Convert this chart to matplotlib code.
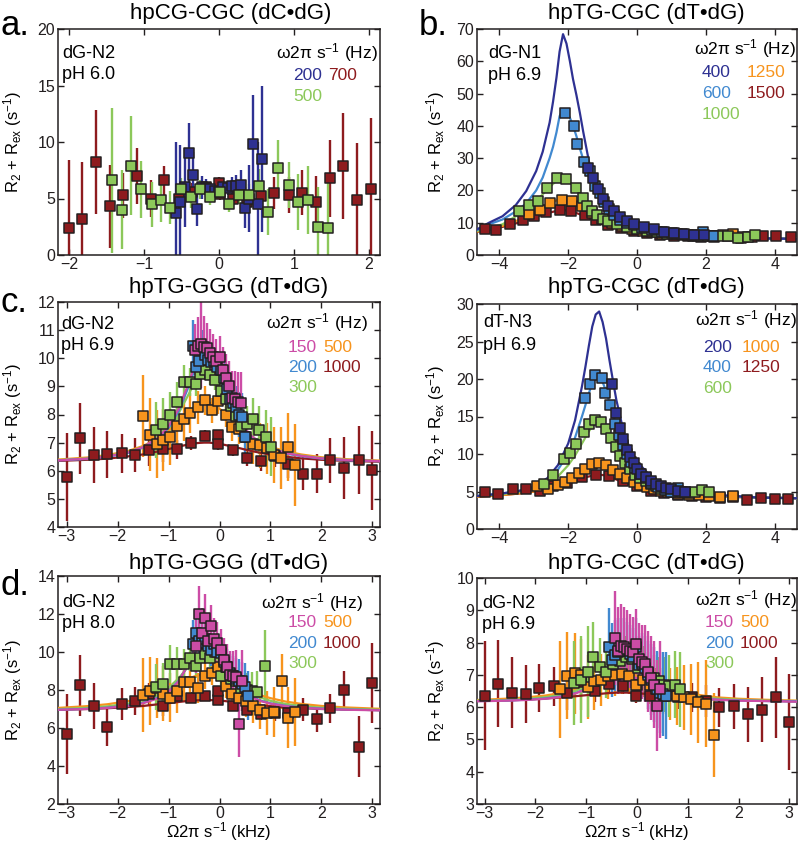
import matplotlib
matplotlib.use('Agg')
import matplotlib.pyplot as plt
from matplotlib.markers import MarkerStyle

plt.rcParams['font.family'] = ['Liberation Sans', 'DejaVu Sans']
plt.rcParams['mathtext.default'] = 'regular'

NAVY = '#2e3192'
LBLUE = '#4189d0'
GREEN = '#8cc85a'
ORANGE = '#f7941d'
RED = '#8e1b1e'
MAGENTA = '#cc4ca6'

# ---- panel a : hpCG-CGC dG-N2 pH 6.0 (no fits) ----
a_700_x = [-2.00, -1.83, -1.64, -1.46, -1.28, -1.10, -0.91, -0.73, -0.54, -0.36, -0.18, 0.00, 0.02,
           0.19, 0.37, 0.56, 0.74, 0.93, 1.11, 1.29, 1.48, 1.66, 1.84, 2.03]
a_700_y = [2.4, 3.2, 8.2, 4.3, 5.3, 7.0, 5.0, 6.6, 5.0, 5.6, 6.0, 6.4, 5.4,
           5.0, 4.7, 5.2, 5.5, 5.3, 5.5, 4.7, 6.8, 7.9, 4.9, 5.8]
a_700_e = [6.0, 5.0, 4.6, 3.7, 2.0, 2.5, 1.6, 1.3, 1.0, 0.8, 0.5, 0.5, 0.5,
           0.6, 1.0, 1.2, 1.4, 1.6, 2.0, 2.3, 3.4, 4.7, 5.0, 6.3]
a_500_x = [-1.43, -1.30, -1.18, -1.04, -0.90, -0.78, -0.65, -0.51, -0.38, -0.25, -0.12, 0.01,
           0.14, 0.27, 0.40, 0.53, 0.66, 0.79, 0.93, 1.06, 1.19, 1.32, 1.45]
a_500_y = [6.6, 4.0, 7.9, 5.8, 4.5, 4.9, 4.2, 5.8, 5.1, 5.8, 5.1, 5.6,
           4.5, 5.3, 5.3, 6.1, 3.8, 7.7, 6.2, 4.7, 4.9, 2.5, 2.4]
a_500_e = [6.4, 3.5, 4.4, 2.5, 2.0, 2.0, 1.5, 1.0, 0.9, 0.8, 0.7, 0.6,
           0.7, 0.8, 1.0, 1.5, 2.0, 2.5, 2.0, 2.5, 3.0, 3.5, 4.0]
a_200_x = [-0.58, -0.52, -0.46, -0.40, -0.35, -0.29, -0.23, -0.17, -0.12, -0.06, 0.0,
           0.06, 0.12, 0.17, 0.23, 0.29, 0.35, 0.40, 0.46, 0.52, 0.58]
a_200_y = [3.7, 4.7, 6.0, 9.0, 7.1, 4.1, 6.0, 5.9, 5.8, 5.7, 5.6,
           6.0, 5.9, 6.1, 6.1, 6.2, 4.2, 5.0, 9.8, 4.5, 8.5]
a_200_e = [6.3, 5.0, 3.5, 2.7, 2.0, 1.5, 1.0, 0.8, 0.6, 0.5, 0.5,
           0.5, 0.6, 0.8, 1.0, 1.3, 1.8, 3.0, 4.4, 5.5, 6.5]

# ---- panel b : hpTG-CGC dG-N1 pH 6.9 ----
b_fit_x = [-4.64, -4.30, -3.91, -3.52, -3.22, -2.93, -2.74, -2.54, -2.44, -2.34, -2.25, -2.15, -2.05,
           -1.95, -1.86, -1.76, -1.66, -1.56, -1.37, -1.17, -0.98, -0.78, -0.49, 0.0, 0.49, 0.98,
           1.95, 2.93, 3.91, 4.64]
b_fit_400 = [8.0, 10.0, 12.0, 15.5, 19.8, 26.0, 32.0, 41.0, 47.5, 55.0, 63.0, 68.4, 65.5, 60.0, 54.5,
             49.5, 44.0, 38.0, 27.5, 21.5, 17.5, 14.5, 11.5, 9.0, 8.0, 7.0, 6.0, 5.5, 5.1, 5.0]
b_fit_600 = [7.8, 9.5, 11.0, 13.5, 16.0, 20.0, 24.0, 30.0, 33.5, 38.0, 43.0, 45.2, 44.5, 42.5, 40.0,
             36.8, 33.0, 29.5, 24.0, 19.5, 16.5, 14.0, 11.2, 9.0, 8.0, 7.0, 6.0, 5.5, 5.1, 5.0]
b_fit_1000 = [7.5, 8.3, 9.5, 12.0, 14.0, 16.5, 18.8, 21.0, 22.0, 23.0, 23.5, 23.6, 23.3, 22.6, 21.5,
              20.3, 19.0, 17.6, 15.0, 13.0, 11.8, 10.8, 9.6, 8.3, 7.5, 6.8, 6.0, 5.5, 5.1, 5.0]
b_fit_1250 = [7.3, 8.0, 9.0, 10.5, 12.0, 13.5, 14.8, 16.0, 16.5, 16.9, 17.1, 17.2, 17.1, 16.8, 16.3,
              15.6, 14.9, 14.1, 12.6, 11.4, 10.4, 9.7, 8.9, 7.9, 7.2, 6.7, 6.0, 5.5, 5.1, 5.0]
b_fit_1500 = [7.2, 7.8, 8.7, 9.8, 10.8, 11.8, 12.5, 13.1, 13.4, 13.6, 13.8, 13.8, 13.8, 13.6, 13.4,
              13.0, 12.6, 12.1, 11.2, 10.3, 9.6, 9.0, 8.3, 7.5, 7.0, 6.6, 6.0, 5.4, 5.1, 5.0]
b_1500_x = [-4.42, -4.09, -3.70, -3.32, -2.99, -2.64, -2.25, -1.91, -1.51, -1.18, -0.84, -0.46, -0.10,
            0.29, 0.68, 1.07, 1.47, 1.86, 2.25, 2.64, 3.03, 3.35, 3.65, 4.05, 4.49]
b_1500_y = [7.9, 7.6, 9.5, 10.7, 12.1, 13.4, 14.0, 13.7, 12.4, 10.9, 9.3, 8.3, 7.5,
            6.8, 6.3, 6.0, 6.0, 5.7, 5.6, 5.8, 5.2, 5.5, 6.0, 6.0, 5.5]
b_1250_x = [-3.13, -2.83, -2.52, -2.18, -1.89, -1.60, -1.31, -1.02, -0.72, -0.43, -0.14, 0.16, 0.45,
            0.74, 1.04, 1.33, 1.62, 1.91, 2.21, 2.50, 2.79, 3.09]
b_1250_y = [12.6, 14.0, 16.0, 17.1, 16.8, 15.3, 13.0, 11.0, 9.8, 9.0, 8.1, 7.4, 7.0,
            6.6, 6.4, 6.2, 6.0, 5.8, 5.9, 6.3, 6.6, 5.5]
b_1000_x = [-3.44, -3.15, -2.89, -2.62, -2.33, -2.05, -1.76, -1.57, -1.46, -1.32, -1.17, -0.98, -0.83,
            -0.59, -0.29, 0.0, 0.29, 0.59, 0.88, 1.17, 1.47, 1.76, 2.05, 2.34, 2.64, 2.93, 3.22, 3.42]
b_1000_y = [13.7, 15.5, 16.8, 20.6, 23.8, 23.5, 20.6, 17.8, 15.3, 13.7, 12.5, 11.3, 10.4,
            9.6, 8.8, 8.0, 7.4, 7.0, 6.6, 6.4, 6.2, 6.0, 5.9, 5.8, 5.8, 5.4, 5.6, 6.3]
b_600_x = [-2.08, -1.84, -1.75, -1.55, -1.37, -1.21, -1.08, -0.96, -0.82, -0.67, -0.48, -0.29, -0.10,
           0.15, 0.44, 0.73, 1.03, 1.32, 1.61, 1.91, 2.20]
b_600_y = [44.0, 40.0, 34.4, 28.7, 26.0, 21.5, 19.2, 16.5, 14.3, 12.3, 10.8, 9.8, 9.2,
           8.4, 7.6, 7.0, 6.7, 6.5, 6.3, 7.2, 6.0]
b_400_x = [-1.42, -1.27, -1.12, -0.98, -0.83, -0.68, -0.49, -0.29, -0.10, 0.20, 0.49, 0.78,
           1.07, 1.37, 1.66, 1.95]
b_400_y = [27.0, 24.0, 20.5, 17.5, 15.2, 13.5, 11.8, 10.6, 9.6, 8.6, 7.9, 7.2,
           6.9, 6.6, 6.3, 6.2]

# ---- shared fit grid for panels c, d, f ----
mid_fit_x = [-3.15, -2.6, -2.2, -1.8, -1.5, -1.2, -1.0, -0.8, -0.6, -0.5, -0.4, -0.3, -0.2, -0.1,
             0.0, 0.1, 0.2, 0.4, 0.6, 0.8, 1.0, 1.3, 1.6, 2.0, 2.5, 3.15]

# ---- panel c : hpTG-GGG dG-N2 pH 6.9 ----
c_fit_150 = [6.37, 6.43, 6.51, 6.65, 6.84, 7.18, 7.58, 8.21, 9.14, 9.68, 10.14, 10.39, 10.32, 9.97,
             9.47, 8.93, 8.45, 7.73, 7.28, 6.99, 6.81, 6.63, 6.53, 6.44, 6.38, 6.34]
c_fit_200 = [6.37, 6.42, 6.50, 6.63, 6.82, 7.14, 7.53, 8.13, 9.02, 9.54, 9.98, 10.22, 10.16, 9.82,
             9.34, 8.82, 8.36, 7.67, 7.24, 6.96, 6.79, 6.61, 6.52, 6.43, 6.37, 6.34]
c_fit_300 = [6.38, 6.44, 6.52, 6.66, 6.85, 7.17, 7.52, 8.05, 8.74, 9.10, 9.39, 9.55, 9.50, 9.29,
             8.96, 8.60, 8.24, 7.66, 7.27, 7.00, 6.82, 6.65, 6.54, 6.45, 6.39, 6.34]
c_fit_500 = [6.40, 6.47, 6.56, 6.70, 6.88, 7.16, 7.42, 7.75, 8.12, 8.27, 8.39, 8.45, 8.43, 8.35,
             8.21, 8.05, 7.86, 7.52, 7.23, 7.01, 6.85, 6.69, 6.58, 6.48, 6.41, 6.36]
c_fit_1000 = [6.35, 6.39, 6.43, 6.51, 6.58, 6.69, 6.77, 6.86, 6.94, 6.97, 6.99, 7.00, 7.00, 6.98,
              6.96, 6.92, 6.88, 6.80, 6.71, 6.64, 6.57, 6.50, 6.44, 6.39, 6.35, 6.32]
c_1000_x = [-3.00, -2.74, -2.46, -2.20, -1.92, -1.66, -1.38, -1.10, -0.83, -0.56, -0.28, -0.02, -0.02,
            0.26, 0.53, 0.81, 1.08, 1.35, 1.63, 1.91, 2.17, 2.45, 2.73, 2.99]
c_1000_y = [5.78, 7.15, 6.56, 6.58, 6.62, 6.56, 6.73, 6.76, 6.76, 7.00, 7.25, 7.26, 6.95,
            6.73, 6.47, 6.35, 6.52, 6.24, 5.90, 5.90, 6.38, 6.10, 6.38, 6.02]
c_1000_e = [1.55, 1.25, 1.0, 0.85, 0.7, 0.6, 0.55, 0.45, 0.35, 0.25, 0.2, 0.2, 0.2,
            0.2, 0.3, 0.35, 0.4, 0.5, 0.6, 0.7, 0.8, 1.1, 1.2, 1.4]
c_500_x = [-1.51, -1.37, -1.23, -1.10, -0.97, -0.84, -0.70, -0.57, -0.43, -0.29, -0.15, -0.02, 0.12,
           0.25, 0.38, 0.52, 0.65, 0.79, 0.93, 1.06, 1.20, 1.35, 1.48]
c_500_y = [7.95, 7.28, 6.95, 7.10, 7.20, 7.60, 7.85, 8.05, 8.25, 8.50, 8.15, 8.48, 8.00,
           7.55, 7.50, 7.20, 6.95, 6.90, 6.80, 6.55, 6.45, 6.85, 6.20]
c_500_e = [1.45, 1.3, 1.2, 1.1, 1.0, 0.9, 0.8, 0.7, 0.6, 0.5, 0.45, 0.45, 0.45,
           0.5, 0.55, 0.6, 0.7, 0.8, 0.9, 1.0, 1.1, 1.2, 1.45]
c_300_x = [-1.24, -1.11, -0.97, -0.84, -0.70, -0.57, -0.47, -0.39, -0.29, -0.18, -0.08, 0.02, 0.12,
           0.22, 0.33, 0.43, 0.53, 0.65, 0.78, 0.91, 1.02]
c_300_y = [7.45, 7.68, 8.00, 8.46, 9.15, 9.15, 9.10, 9.45, 9.58, 9.39, 9.23, 8.85, 8.55,
           8.30, 7.95, 7.60, 7.65, 7.85, 7.45, 7.20, 6.85]
c_300_e = [1.0, 0.9, 0.8, 0.7, 0.6, 0.5, 0.45, 0.4, 0.35, 0.35, 0.35, 0.35, 0.4,
           0.45, 0.5, 0.55, 0.65, 0.75, 0.85, 0.95, 1.05]
c_200_x = [-0.52, -0.46, -0.40, -0.34, -0.28, -0.22, -0.16, -0.10, -0.04, 0.02, 0.08, 0.14, 0.20,
           0.26, 0.32, 0.38, 0.44, 0.50]
c_200_y = [10.45, 9.70, 9.90, 10.40, 10.10, 9.95, 9.85, 9.90, 9.70, 9.60, 9.30, 8.90, 8.55,
           8.40, 8.25, 8.00, 7.90, 7.20]
c_200_e = [0.9, 0.8, 0.7, 0.6, 0.55, 0.5, 0.5, 0.5, 0.5, 0.5, 0.55, 0.6, 0.65,
           0.7, 0.75, 0.8, 0.85, 0.9]
c_150_x = [-0.48, -0.42, -0.36, -0.30, -0.24, -0.18, -0.12, -0.06, 0.0, 0.06, 0.12, 0.18, 0.24,
           0.30, 0.36, 0.42]
c_150_y = [10.30, 10.45, 10.50, 10.40, 10.35, 10.20, 10.05, 9.90, 10.05, 9.60, 9.30, 9.00, 8.60,
           8.55, 8.45, 8.40]
c_150_e = [0.9, 1.0, 1.55, 1.1, 0.9, 0.85, 0.8, 0.8, 0.75, 0.8, 0.85, 0.9, 0.95,
           1.0, 1.05, 1.1]

# ---- panel e : hpTG-CGC dT-N3 pH 6.9 ----
e_fit_x = [-4.65, -4.0, -3.5, -3.0, -2.6, -2.3, -2.0, -1.8, -1.6, -1.5, -1.4, -1.3, -1.2, -1.1,
           -1.0, -0.9, -0.8, -0.7, -0.6, -0.4, -0.2, 0.0, 0.4, 0.8, 1.5, 2.5, 3.5, 4.65]
e_fit_200 = [4.4, 4.7, 5.0, 5.6, 6.8, 8.5, 11.4, 14.5, 19.0, 21.6, 24.4, 27.0, 28.6, 29.0,
             27.6, 25.4, 22.5, 19.8, 17.2, 13.2, 10.6, 9.0, 7.0, 5.9, 5.0, 4.5, 4.2, 4.1]
e_fit_400 = [4.4, 4.7, 5.0, 5.5, 6.4, 7.9, 10.0, 12.2, 15.0, 16.5, 18.1, 19.4, 20.1, 20.3,
             19.6, 18.4, 16.9, 15.3, 13.8, 11.3, 9.4, 8.1, 6.5, 5.6, 4.9, 4.4, 4.2, 4.1]
e_fit_600 = [4.4, 4.6, 4.9, 5.4, 6.1, 7.0, 8.5, 9.8, 11.4, 12.2, 13.0, 13.7, 14.1, 14.3,
             14.0, 13.4, 12.6, 11.7, 10.8, 9.2, 7.9, 7.0, 5.9, 5.3, 4.7, 4.4, 4.2, 4.1]
e_fit_1000 = [4.3, 4.5, 4.7, 5.0, 5.4, 5.9, 6.5, 7.0, 7.6, 7.9, 8.2, 8.5, 8.6, 8.7,
              8.6, 8.4, 8.1, 7.8, 7.5, 6.9, 6.3, 5.9, 5.3, 4.9, 4.5, 4.3, 4.2, 4.1]
e_fit_1250 = [4.3, 4.5, 4.7, 5.0, 5.3, 5.7, 6.1, 6.5, 6.8, 6.9, 7.0, 7.1, 7.2, 7.2,
              7.2, 7.1, 7.0, 6.8, 6.6, 6.2, 5.9, 5.6, 5.1, 4.8, 4.5, 4.3, 4.2, 4.1]
e_1250_x = [-4.42, -4.03, -3.61, -3.23, -2.82, -2.43, -2.03, -1.61, -1.19, -0.80, -0.40, 0.01,
            0.40, 0.79, 1.18, 1.60, 2.00, 2.40, 2.80, 3.20, 3.60, 4.00, 4.40]
e_1250_y = [5.0, 4.7, 5.4, 5.3, 5.1, 5.7, 6.1, 6.9, 7.2, 7.1, 6.4, 5.7,
            5.1, 4.8, 4.5, 4.4, 4.3, 4.1, 4.3, 3.9, 4.1, 4.0, 4.0]
e_1000_x = [-2.9, -2.6, -2.3, -2.1, -1.9, -1.7, -1.5, -1.3, -1.1, -0.9, -0.7, -0.5, -0.3,
            -0.1, 0.1, 0.3, 0.5, 0.7, 0.9, 1.2, 1.5, 1.8, 2.1, 2.4, 2.8]
e_1000_y = [5.8, 5.4, 5.9, 6.3, 6.8, 7.5, 8.0, 8.7, 8.8, 8.6, 7.9, 7.4, 6.8,
            6.3, 5.9, 5.6, 5.4, 5.1, 4.9, 4.7, 4.6, 4.5, 4.4, 4.3, 4.4]
e_600_x = [-2.70, -2.45, -2.11, -1.95, -1.76, -1.55, -1.40, -1.22, -1.05, -0.90, -0.75, -0.62, -0.48,
           -0.35, -0.20, -0.05, 0.10, 0.25, 0.40, 0.55, 0.70, 0.9, 1.1, 1.3, 1.5, 1.7, 1.9, 2.1]
e_600_y = [6.0, 7.2, 9.3, 10.2, 11.3, 12.9, 14.0, 14.5, 14.3, 13.4, 12.2, 11.0, 9.8,
           8.8, 8.0, 7.2, 6.8, 6.4, 6.0, 5.7, 5.4, 5.2, 5.0, 4.9, 4.8, 5.0, 5.2, 5.0]
e_400_x = [-1.52, -1.36, -1.21, -1.02, -0.93, -0.78, -0.63, -0.53, -0.42, -0.30, -0.18, -0.05,
           0.1, 0.25, 0.4, 0.6, 0.8, 1.0, 1.2, 1.4]
e_400_y = [17.5, 19.3, 20.5, 20.1, 18.1, 16.5, 14.0, 12.5, 11.2, 10.0, 9.0, 8.2,
           7.4, 6.8, 6.2, 5.6, 5.2, 5.0, 5.5, 5.0]
e_200_x = [-0.73, -0.60, -0.50, -0.40, -0.30, -0.20, -0.10, 0.0, 0.12, 0.25, 0.4, 0.55,
           0.7, 0.85, 1.0, 1.2, 1.4]
e_200_y = [19.3, 15.5, 13.5, 12.0, 10.6, 9.6, 8.8, 8.0, 7.4, 6.9, 6.4, 6.0,
           5.7, 5.5, 5.3, 5.1, 5.0]

# ---- panel d : hpTG-GGG dG-N2 pH 8.0 ----
d_fit_150 = [6.96, 7.00, 7.06, 7.16, 7.30, 7.57, 7.90, 8.46, 9.42, 10.04, 10.64, 10.98, 10.89, 10.42,
             9.79, 9.19, 8.70, 8.03, 7.65, 7.42, 7.28, 7.15, 7.07, 7.01, 6.96, 6.93]
d_fit_200 = [6.96, 7.01, 7.07, 7.18, 7.33, 7.61, 7.94, 8.49, 9.39, 9.94, 10.44, 10.72, 10.65, 10.26,
             9.72, 9.18, 8.72, 8.07, 7.69, 7.45, 7.30, 7.17, 7.08, 7.02, 6.97, 6.94]
d_fit_300 = [7.00, 7.06, 7.14, 7.28, 7.46, 7.78, 8.12, 8.62, 9.28, 9.62, 9.89, 10.03, 10.00, 9.80,
             9.49, 9.14, 8.81, 8.25, 7.87, 7.61, 7.43, 7.26, 7.16, 7.07, 7.01, 6.96]
d_fit_500 = [7.06, 7.15, 7.25, 7.41, 7.60, 7.87, 8.10, 8.36, 8.61, 8.71, 8.78, 8.82, 8.81, 8.76,
             8.67, 8.56, 8.44, 8.17, 7.93, 7.73, 7.57, 7.39, 7.27, 7.16, 7.08, 7.01]
d_fit_1000 = [6.96, 7.00, 7.04, 7.10, 7.16, 7.25, 7.31, 7.37, 7.43, 7.45, 7.46, 7.47, 7.47, 7.46,
              7.44, 7.42, 7.39, 7.33, 7.26, 7.20, 7.15, 7.09, 7.05, 7.00, 6.97, 6.94]
d_1000_x = [-3.00, -2.74, -2.47, -2.20, -1.92, -1.66, -1.38, -1.10, -0.83, -0.56, -0.28, -0.02, -0.02,
            0.26, 0.53, 0.81, 1.08, 1.35, 1.63, 1.91, 2.17, 2.45, 2.73, 2.99]
d_1000_y = [5.68, 8.25, 7.17, 6.06, 7.25, 7.43, 7.78, 7.15, 7.70, 7.59, 7.67, 7.46, 7.96,
            7.17, 6.94, 6.76, 6.80, 6.81, 6.97, 6.45, 7.03, 8.02, 5.01, 8.37]
d_1000_e = [2.1, 1.6, 1.2, 1.0, 0.85, 0.75, 0.6, 0.5, 0.4, 0.3, 0.25, 0.25, 0.25,
            0.25, 0.3, 0.35, 0.45, 0.5, 0.6, 0.65, 0.75, 1.0, 1.6, 2.1]
d_500_x = [-1.51, -1.37, -1.23, -1.10, -0.97, -0.84, -0.70, -0.57, -0.43, -0.29, -0.15, -0.02, 0.12,
           0.25, 0.38, 0.52, 0.65, 0.79, 0.93, 1.06, 1.22, 1.35, 1.48]
d_500_y = [7.76, 7.94, 8.11, 7.80, 7.59, 7.95, 8.40, 8.40, 8.10, 8.75, 8.90, 9.20, 8.20,
           7.80, 7.60, 7.40, 7.15, 6.95, 6.80, 6.85, 8.45, 6.55, 6.85]
d_500_e = [1.95, 1.8, 1.6, 1.45, 1.3, 1.15, 1.0, 0.9, 0.8, 0.7, 0.65, 0.6, 0.6,
           0.65, 0.7, 0.8, 0.9, 1.0, 1.15, 1.3, 1.45, 1.6, 1.8]
d_300_x = [-1.24, -1.10, -0.97, -0.84, -0.70, -0.57, -0.47, -0.39, -0.29, -0.18, -0.08, 0.02, 0.12,
           0.22, 0.33, 0.43, 0.53, 0.63, 0.74, 0.90]
d_300_y = [8.15, 8.30, 9.35, 9.35, 9.35, 9.70, 9.25, 9.70, 9.90, 9.70, 10.00, 8.75, 9.20,
           8.60, 8.50, 8.10, 8.00, 7.95, 7.90, 9.25]
d_300_e = [1.2, 1.1, 1.0, 0.9, 0.8, 0.7, 0.6, 0.55, 0.5, 0.5, 0.5, 0.5, 0.55,
           0.6, 0.7, 0.8, 0.9, 1.0, 1.1, 1.9]
d_200_x = [-0.52, -0.46, -0.40, -0.34, -0.28, -0.22, -0.16, -0.10, -0.04, 0.02, 0.08, 0.14, 0.20,
           0.26, 0.32, 0.38, 0.44, 0.50, 0.56]
d_200_y = [10.40, 11.00, 10.60, 10.45, 10.70, 10.30, 10.10, 10.40, 10.00, 9.95, 9.50, 9.20, 8.90,
           8.75, 8.60, 8.50, 8.30, 8.15, 7.70]
d_200_e = [1.3, 1.2, 1.1, 1.0, 0.95, 0.9, 0.85, 0.85, 0.85, 0.85, 0.9, 0.95, 1.0,
           1.05, 1.1, 1.15, 1.2, 1.25, 1.3]
d_150_x = [-0.46, -0.40, -0.34, -0.28, -0.22, -0.16, -0.10, -0.04, 0.02, 0.08, 0.14, 0.20, 0.26,
           0.32, 0.38, 0.44]
d_150_y = [10.30, 12.00, 11.00, 11.80, 10.60, 11.35, 10.70, 10.50, 10.10, 9.60, 9.20, 8.80, 8.75,
           8.70, 6.20, 8.50]
d_150_e = [1.4, 1.45, 1.3, 1.25, 1.2, 1.15, 1.1, 1.1, 1.1, 1.15, 1.2, 1.25, 1.3,
           1.4, 1.7, 1.6]

# ---- panel f : hpTG-CGC dG-N2 pH 6.9 ----
f_fit_150 = [6.18, 6.20, 6.22, 6.26, 6.32, 6.43, 6.56, 6.79, 7.20, 7.47, 7.74, 7.90, 7.86, 7.64,
             7.36, 7.10, 6.89, 6.61, 6.46, 6.37, 6.31, 6.26, 6.23, 6.20, 6.19, 6.17]
f_fit_200 = [6.19, 6.20, 6.23, 6.27, 6.33, 6.44, 6.57, 6.80, 7.20, 7.46, 7.70, 7.84, 7.80, 7.61,
             7.35, 7.11, 6.90, 6.63, 6.47, 6.38, 6.32, 6.26, 6.23, 6.21, 6.19, 6.18]
f_fit_300 = [6.20, 6.22, 6.25, 6.31, 6.38, 6.51, 6.65, 6.87, 7.17, 7.32, 7.46, 7.53, 7.51, 7.41,
             7.26, 7.10, 6.95, 6.71, 6.54, 6.44, 6.37, 6.30, 6.26, 6.23, 6.20, 6.19]
f_fit_500 = [6.22, 6.26, 6.30, 6.36, 6.44, 6.56, 6.67, 6.80, 6.93, 6.99, 7.03, 7.05, 7.04, 7.02,
             6.97, 6.91, 6.84, 6.71, 6.59, 6.50, 6.43, 6.36, 6.30, 6.26, 6.23, 6.20]
f_fit_1000 = [6.20, 6.21, 6.23, 6.27, 6.30, 6.34, 6.37, 6.40, 6.43, 6.44, 6.45, 6.45, 6.45, 6.44,
              6.44, 6.42, 6.41, 6.38, 6.35, 6.32, 6.29, 6.26, 6.24, 6.22, 6.20, 6.18]
f_1000_x = [-3.00, -2.74, -2.46, -2.19, -1.92, -1.64, -1.38, -1.10, -0.83, -0.56, -0.28, -0.02, 0.0,
            0.26, 0.53, 0.81, 1.08, 1.35, 1.62, 1.90, 2.18, 2.46, 2.73, 3.00]
f_1000_y = [6.36, 6.72, 6.45, 6.40, 6.60, 6.65, 6.45, 6.78, 6.50, 6.72, 6.65, 6.33, 6.70,
            6.35, 6.36, 6.30, 6.30, 6.20, 6.00, 6.02, 5.78, 5.92, 6.30, 5.54]
f_1000_e = [1.7, 1.35, 1.1, 0.9, 0.75, 0.6, 0.55, 0.45, 0.35, 0.3, 0.25, 0.2, 0.2,
            0.25, 0.3, 0.35, 0.45, 0.5, 0.6, 0.7, 0.85, 1.0, 1.25, 1.5]
f_500_x = [-1.51, -1.37, -1.23, -1.10, -0.97, -0.84, -0.70, -0.57, -0.43, -0.29, -0.15, -0.02, 0.12,
           0.25, 0.38, 0.52, 0.65, 0.79, 0.93, 1.06, 1.20, 1.35, 1.51]
f_500_y = [6.55, 6.97, 7.05, 7.00, 6.62, 6.80, 6.85, 6.95, 7.00, 7.02, 6.95, 6.70, 6.85,
           6.70, 6.55, 6.50, 6.40, 6.35, 6.30, 6.25, 6.15, 6.10, 5.15]
f_500_e = [1.5, 1.35, 1.25, 1.1, 1.0, 0.9, 0.8, 0.7, 0.65, 0.6, 0.55, 0.55, 0.55,
           0.6, 0.65, 0.7, 0.8, 0.9, 1.0, 1.1, 1.25, 1.35, 1.3]
f_300_x = [-1.24, -1.10, -0.97, -0.87, -0.72, -0.61, -0.48, -0.34, -0.21, -0.10, 0.02, 0.12, 0.22,
           0.33, 0.43, 0.53, 0.63, 0.74, 0.84]
f_300_y = [6.75, 6.85, 7.10, 7.55, 7.25, 7.08, 7.33, 7.44, 7.54, 7.50, 7.20, 7.30, 7.05,
           6.90, 6.80, 6.70, 6.65, 6.70, 6.55]
f_300_e = [1.3, 1.35, 1.4, 1.1, 0.9, 0.8, 0.75, 0.7, 0.65, 0.6, 0.6, 0.6, 0.65,
           0.7, 0.75, 0.85, 0.95, 1.05, 1.15]
f_200_x = [-0.56, -0.50, -0.44, -0.38, -0.32, -0.26, -0.20, -0.14, -0.08, -0.02, 0.04, 0.10, 0.16,
           0.22, 0.28, 0.34, 0.40, 0.46, 0.52, 0.58]
f_200_y = [7.86, 7.45, 7.60, 7.70, 7.75, 7.80, 7.75, 7.65, 7.55, 7.85, 7.30, 7.35, 7.20,
           7.00, 6.85, 6.70, 6.55, 6.45, 6.40, 6.35]
f_200_e = [1.2, 1.15, 1.1, 1.05, 1.0, 0.95, 0.9, 0.9, 0.9, 0.9, 0.9, 0.95, 1.0,
           1.05, 1.1, 1.15, 1.2, 1.25, 1.3, 1.35]
f_150_x = [-0.44, -0.38, -0.32, -0.26, -0.20, -0.14, -0.08, -0.02, 0.04, 0.10, 0.16, 0.22, 0.28,
           0.34, 0.40, 0.46]
f_150_y = [8.15, 7.75, 7.90, 7.85, 7.80, 7.75, 7.70, 7.95, 7.50, 7.40, 7.35, 7.10, 6.90,
           6.70, 6.05, 6.55]
f_150_e = [1.45, 1.35, 1.3, 1.25, 1.2, 1.15, 1.1, 1.1, 1.1, 1.15, 1.2, 1.25, 1.3,
           1.35, 1.4, 1.5]

W, H = 800, 842
fig = plt.figure(figsize=(8, 8.42), dpi=100)
SQ = MarkerStyle('s', joinstyle='round')
EDGE = '#231f20'


def ftext(x, y, s, **kw):
    # place text by pixel position (origin top-left)
    fig.text(x / W, 1 - y / H, s, va='baseline', **kw)


def new_axes(left, top, width, height):
    return fig.add_axes([left / W, 1 - (top + height) / H, width / W, height / H])


def setup(ax, xlim, ylim, xticks, yticks, ylab_x):
    ax.set_xlim(xlim)
    ax.set_ylim(ylim)
    ax.set_xticks(xticks)
    ax.set_yticks(yticks)
    ax.tick_params(direction='in', top=True, right=True, length=4, width=1,
                   labelsize=11.5, pad=2, colors='#231f20')
    ax.tick_params(axis='x', pad=1.5)
    for s in ax.spines.values():
        s.set_linewidth(1.1)
        s.set_color('#231f20')
    ax.set_ylabel('R$_2$ + R$_{ex}$ (s$^{-1}$)', fontsize=12)
    ax.yaxis.set_label_coords(ylab_x, 0.5)


def bars(ax, x, y, e, color):
    ax.errorbar(x, y, yerr=e, fmt='none', ecolor=color, elinewidth=1.7, capsize=0, zorder=2)


def pts(ax, x, y, color):
    ax.plot(x, y, linestyle='none', marker=SQ, ms=7, mfc=color, mec=EDGE, mew=1.1, zorder=4)


def fit(ax, x, y, color):
    ax.plot(x, y, color=color, lw=1.6, zorder=3)


def legend(hx, hy, cols, rows, entries):
    ftext(hx, hy, 'ω2π s$^{-1}$ (Hz)', ha='right', fontsize=12.5)
    for lab, col, c, r in entries:
        ftext(cols[c], rows[r], lab, color=col, fontsize=12.5)


# ---- a ----
ax = new_axes(58, 29, 322, 226)
bars(ax, a_700_x, a_700_y, a_700_e, RED)
bars(ax, a_500_x, a_500_y, a_500_e, GREEN)
bars(ax, a_200_x, a_200_y, a_200_e, NAVY)
pts(ax, a_700_x, a_700_y, RED)
pts(ax, a_200_x, a_200_y, NAVY)
pts(ax, a_500_x, a_500_y, GREEN)
setup(ax, (-2.15, 2.15), (0, 20), [-2, -1, 0, 1, 2], [0, 5, 10, 15, 20], -0.105)
ftext(62, 58, 'dG-N2', fontsize=13)
ftext(62, 79, 'pH 6.0', fontsize=13)
legend(378, 58, [293, 328], [80, 101], [('200', NAVY, 0, 0), ('700', RED, 1, 0), ('500', GREEN, 0, 1)])

# ---- b ----
ax = new_axes(477, 29, 320, 226)
fit(ax, b_fit_x, b_fit_1500, RED)
fit(ax, b_fit_x, b_fit_1250, ORANGE)
fit(ax, b_fit_x, b_fit_1000, GREEN)
fit(ax, b_fit_x, b_fit_600, LBLUE)
fit(ax, b_fit_x, b_fit_400, NAVY)
pts(ax, b_1500_x, b_1500_y, RED)
pts(ax, b_1250_x, b_1250_y, ORANGE)
pts(ax, b_1000_x, b_1000_y, GREEN)
pts(ax, b_600_x, b_600_y, LBLUE)
pts(ax, b_400_x, b_400_y, NAVY)
setup(ax, (-4.65, 4.65), (0, 70), [-4, -2, 0, 2, 4], list(range(0, 71, 10)), -0.094)
ftext(488, 58, 'dG-N1', fontsize=13)
ftext(488, 80, 'pH 6.9', fontsize=13)
legend(796, 54, [702, 747], [77, 98, 119],
       [('400', NAVY, 0, 0), ('1250', ORANGE, 1, 0), ('600', LBLUE, 0, 1),
        ('1500', RED, 1, 1), ('1000', GREEN, 0, 2)])

# ---- c ----
ax = new_axes(58, 302, 322, 225)
bars(ax, c_1000_x, c_1000_y, c_1000_e, RED)
bars(ax, c_500_x, c_500_y, c_500_e, ORANGE)
bars(ax, c_300_x, c_300_y, c_300_e, GREEN)
bars(ax, c_200_x, c_200_y, c_200_e, LBLUE)
bars(ax, c_150_x, c_150_y, c_150_e, MAGENTA)
fit(ax, mid_fit_x, c_fit_1000, RED)
fit(ax, mid_fit_x, c_fit_500, ORANGE)
fit(ax, mid_fit_x, c_fit_300, GREEN)
fit(ax, mid_fit_x, c_fit_200, LBLUE)
fit(ax, mid_fit_x, c_fit_150, MAGENTA)
pts(ax, c_1000_x, c_1000_y, RED)
pts(ax, c_500_x, c_500_y, ORANGE)
pts(ax, c_300_x, c_300_y, GREEN)
pts(ax, c_200_x, c_200_y, LBLUE)
pts(ax, c_150_x, c_150_y, MAGENTA)
setup(ax, (-3.17, 3.15), (4, 12), [-3, -2, -1, 0, 1, 2, 3], list(range(4, 13)), -0.105)
ftext(61, 329, 'dG-N2', fontsize=13)
ftext(61, 350, 'pH 6.9', fontsize=13)
legend(368, 328, [288, 323], [352, 372, 392],
       [('150', MAGENTA, 0, 0), ('500', ORANGE, 1, 0), ('200', LBLUE, 0, 1),
        ('1000', RED, 1, 1), ('300', GREEN, 0, 2)])

# ---- e ----
ax = new_axes(477, 304, 320, 225)
fit(ax, e_fit_x, e_fit_1250, RED)
fit(ax, e_fit_x, e_fit_1000, ORANGE)
fit(ax, e_fit_x, e_fit_600, GREEN)
fit(ax, e_fit_x, e_fit_400, LBLUE)
fit(ax, e_fit_x, e_fit_200, NAVY)
pts(ax, e_1250_x, e_1250_y, RED)
pts(ax, e_1000_x, e_1000_y, ORANGE)
pts(ax, e_600_x, e_600_y, GREEN)
pts(ax, e_400_x, e_400_y, LBLUE)
pts(ax, e_200_x, e_200_y, NAVY)
setup(ax, (-4.65, 4.65), (0, 30), [-4, -2, 0, 2, 4], list(range(0, 31, 5)), -0.094)
ftext(483, 327, 'dT-N3', fontsize=13)
ftext(483, 350, 'pH 6.9', fontsize=13)
legend(797, 325, [703, 742], [352, 372, 393],
       [('200', NAVY, 0, 0), ('1000', ORANGE, 1, 0), ('400', LBLUE, 0, 1),
        ('1250', RED, 1, 1), ('600', GREEN, 0, 2)])

# ---- d ----
ax = new_axes(58, 576, 322, 228)
bars(ax, d_1000_x, d_1000_y, d_1000_e, RED)
bars(ax, d_500_x, d_500_y, d_500_e, ORANGE)
bars(ax, d_300_x, d_300_y, d_300_e, GREEN)
bars(ax, d_200_x, d_200_y, d_200_e, LBLUE)
bars(ax, d_150_x, d_150_y, d_150_e, MAGENTA)
fit(ax, mid_fit_x, d_fit_1000, RED)
fit(ax, mid_fit_x, d_fit_500, ORANGE)
fit(ax, mid_fit_x, d_fit_300, GREEN)
fit(ax, mid_fit_x, d_fit_200, LBLUE)
fit(ax, mid_fit_x, d_fit_150, MAGENTA)
pts(ax, d_1000_x, d_1000_y, RED)
pts(ax, d_500_x, d_500_y, ORANGE)
pts(ax, d_300_x, d_300_y, GREEN)
pts(ax, d_200_x, d_200_y, LBLUE)
pts(ax, d_150_x, d_150_y, MAGENTA)
setup(ax, (-3.17, 3.15), (2, 14), [-3, -2, -1, 0, 1, 2, 3], list(range(2, 15, 2)), -0.105)
ftext(219, 837, 'Ω2π s$^{-1}$ (kHz)', ha='center', fontsize=12)
ftext(62, 607, 'dG-N2', fontsize=13)
ftext(62, 628, 'pH 8.0', fontsize=13)
legend(363, 608, [288, 323], [627, 648, 668],
       [('150', MAGENTA, 0, 0), ('500', ORANGE, 1, 0), ('200', LBLUE, 0, 1),
        ('1000', RED, 1, 1), ('300', GREEN, 0, 2)])

# ---- f ----
ax = new_axes(477, 578, 320, 226)
bars(ax, f_1000_x, f_1000_y, f_1000_e, RED)
bars(ax, f_500_x, f_500_y, f_500_e, ORANGE)
bars(ax, f_300_x, f_300_y, f_300_e, GREEN)
bars(ax, f_200_x, f_200_y, f_200_e, LBLUE)
bars(ax, f_150_x, f_150_y, f_150_e, MAGENTA)
fit(ax, mid_fit_x, f_fit_1000, RED)
fit(ax, mid_fit_x, f_fit_500, ORANGE)
fit(ax, mid_fit_x, f_fit_300, GREEN)
fit(ax, mid_fit_x, f_fit_200, LBLUE)
fit(ax, mid_fit_x, f_fit_150, MAGENTA)
pts(ax, f_1000_x, f_1000_y, RED)
pts(ax, f_500_x, f_500_y, ORANGE)
pts(ax, f_300_x, f_300_y, GREEN)
pts(ax, f_200_x, f_200_y, LBLUE)
pts(ax, f_150_x, f_150_y, MAGENTA)
setup(ax, (-3.15, 3.15), (3, 10), [-3, -2, -1, 0, 1, 2, 3], list(range(3, 11)), -0.094)
ftext(637, 837, 'Ω2π s$^{-1}$ (kHz)', ha='center', fontsize=12)
ftext(482, 608, 'dG-N2', fontsize=13)
ftext(482, 629, 'pH 6.9', fontsize=13)
legend(797, 605, [705, 740], [627, 648, 668],
       [('150', MAGENTA, 0, 0), ('500', ORANGE, 1, 0), ('200', LBLUE, 0, 1),
        ('1000', RED, 1, 1), ('300', GREEN, 0, 2)])

# titles and panel letters
ftext(231, 19, 'hpCG-CGC (dC•dG)', ha='center', fontsize=16)
ftext(646, 19, 'hpTG-CGC (dT•dG)', ha='center', fontsize=16)
ftext(229, 293, 'hpTG-GGG (dT•dG)', ha='center', fontsize=16)
ftext(646, 293, 'hpTG-CGC (dT•dG)', ha='center', fontsize=16)
ftext(229, 569, 'hpTG-GGG (dT•dG)', ha='center', fontsize=16)
ftext(646, 569, 'hpTG-CGC (dT•dG)', ha='center', fontsize=16)
ftext(0, 35, 'a.', fontsize=25)
ftext(419, 35, 'b.', fontsize=25)
ftext(0, 312, 'c.', fontsize=25)
ftext(0, 595, 'd.', fontsize=25)

fig.savefig('out.png', dpi=100)
